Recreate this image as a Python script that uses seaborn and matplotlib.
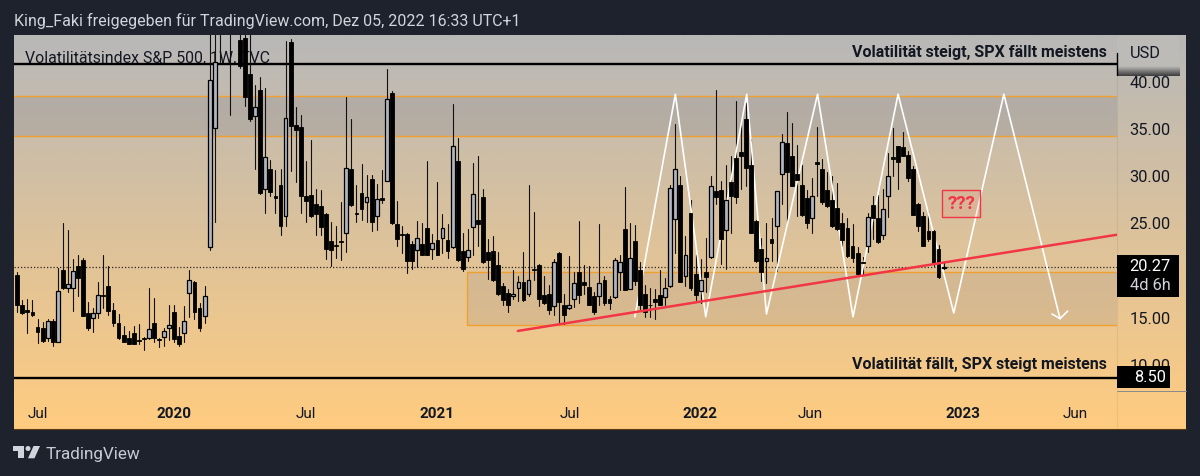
"""Weekly VIX candles with zones, trend line and projected zigzag (TradingView look)."""

import matplotlib

matplotlib.use("Agg")
import matplotlib.pyplot as plt
import numpy as np
import pandas as pd
import seaborn as sns
from matplotlib.colors import LinearSegmentedColormap
from matplotlib.patches import Circle, Polygon, Rectangle

highs = [
    19.8, 16.8, 16.9, 16.8, 14.8, 14.4, 14.8, 14.8, 20.2, 24.9,
    24.2, 21.1, 21.6, 21.2, 16.6, 15.9, 18.7, 21.5, 20.4, 16.5,
    15.3, 14.0, 13.5, 14.0, 14.2, 12.9, 18.1, 17.0, 12.8, 13.8,
    16.3, 16.3, 13.9, 16.1, 20.0, 18.8, 16.5, 18.3, 48, 50,
    70, 85, 85, 70, 50, 50, 46, 39.6, 40.4, 39.3,
    31.6, 30.6, 30.7, 44.2, 44.5, 37.2, 36.4, 31.5, 33.7, 28.6,
    28.4, 26.0, 25.0, 24.6, 27.2, 38.3, 36.0, 29.0, 31.2, 30.0,
    30.0, 29.1, 30.6, 41.3, 38.9, 27.3, 24.6, 23.9, 23.0, 25.2,
    24.9, 31.5, 23.8, 29.3, 25.9, 24.8, 37.6, 34.0, 23.9, 24.3,
    31.3, 32.0, 28.5, 23.2, 23.6, 21.9, 18.6, 17.9, 20.0, 19.3,
    21.9, 29.0, 26.1, 20.6, 19.3, 18.4, 21.1, 21.9, 17.4, 21.4,
    19.7, 25.2, 20.5, 20.4, 17.6, 24.8, 19.3, 17.2, 21.2, 21.5,
    28.8, 24.9, 24.7, 20.8, 18.4, 18.1, 17.9, 20.0, 19.1, 29.0,
    35.4, 29.9, 23.6, 27.4, 21.5, 21.1, 23.4, 29.9, 39.0, 29.4,
    31.1, 32.1, 37.9, 35.3, 37.7, 33.9, 25.3, 23.4, 24.9, 25.5,
    28.3, 34.4, 36.7, 35.5, 33.2, 31.1, 28.4, 29.7, 35.1, 31.7,
    30.3, 29.9, 29.2, 26.0, 25.5, 24.8, 22.4, 21.3, 26.0, 27.8,
    27.9, 28.5, 32.4, 35.0, 33.1, 34.6, 32.6, 31.0, 27.1, 26.1,
    26.2, 24.2, 22.6, 20.8,
]
opens = [
    19.4, 16.3, 15.7, 15.5, 13.9, 13.8, 12.7, 14.6, 12.3, 20.0,
    18.0, 18.0, 20.4, 21.0, 15.4, 14.9, 15.4, 17.3, 18.3, 15.7,
    14.3, 13.1, 12.8, 13.3, 12.5, 12.7, 12.8, 14.3, 12.6, 12.9,
    13.8, 15.5, 13.0, 13.3, 17.5, 18.7, 15.9, 15.1, 22.4, 35.0,
    46, 58, 66, 65, 44.3, 44.6, 40.7, 36.3, 39.1, 28.5,
    30.7, 27.8, 29.0, 25.7, 44.1, 35.3, 35.1, 27.8, 27.9, 27.0,
    26.7, 25.9, 23.0, 22.6, 23.0, 23.9, 30.7, 26.0, 28.1, 27.2,
    29.6, 25.7, 27.6, 29.4, 38.7, 24.8, 23.8, 23.8, 22.7, 22.1,
    22.7, 24.4, 22.2, 23.1, 23.4, 23.1, 22.4, 31.5, 22.0, 21.3,
    24.5, 25.3, 27.7, 21.9, 22.0, 20.5, 18.3, 17.5, 17.2, 18.0,
    18.7, 17.4, 20.1, 20.5, 17.3, 17.4, 16.1, 21.8, 16.2, 15.9,
    16.9, 19.7, 18.7, 18.2, 17.2, 17.2, 18.9, 16.9, 17.1, 19.8,
    24.3, 17.9, 23.0, 20.0, 17.4, 16.3, 16.9, 17.3, 17.1, 18.3,
    25.4, 29.0, 19.3, 26.0, 19.5, 17.7, 19.7, 21.3, 28.3, 28.4,
    24.2, 29.3, 31.8, 32.5, 36.0, 31.1, 25.2, 22.2, 20.9, 23.2,
    24.6, 30.1, 33.4, 32.0, 30.1, 29.0, 27.6, 25.5, 31.4, 30.7,
    28.4, 27.4, 26.5, 24.9, 24.4, 22.5, 21.8, 20.8, 22.5, 26.9,
    25.5, 23.7, 27.8, 31.9, 33.1, 33.0, 32.2, 30.7, 27.0, 25.7,
    24.1, 24.1, 22.2, 20.2,
]
closes = [
    16.3, 15.4, 15.5, 15.2, 13.4, 12.4, 14.5, 12.3, 17.7, 18.1,
    18.5, 19.9, 19.1, 15.1, 13.8, 15.4, 17.3, 17.2, 15.6, 14.3,
    12.7, 12.3, 12.1, 12.1, 12.4, 12.6, 13.7, 12.7, 12.5, 13.5,
    14.1, 12.6, 12.1, 14.6, 18.9, 15.5, 13.8, 17.2, 40.1, 42.0,
    58, 66, 65, 50, 41.6, 38.3, 36.0, 37.2, 28.1, 31.9,
    28.2, 27.6, 24.6, 36.1, 35.2, 34.8, 27.8, 27.3, 25.7, 25.9,
    24.5, 22.2, 22.1, 22.5, 22.9, 30.8, 26.9, 25.9, 26.4, 27.7,
    25.1, 27.5, 27.4, 38.1, 24.9, 23.2, 23.7, 20.9, 20.9, 23.4,
    21.6, 21.6, 22.8, 21.6, 24.4, 22.0, 33.1, 21.0, 20.1, 22.1,
    28.0, 24.8, 20.8, 21.0, 18.9, 17.4, 16.8, 16.3, 17.4, 18.7,
    16.8, 18.9, 20.0, 16.9, 16.5, 15.7, 20.8, 16.6, 15.2, 16.3,
    18.6, 17.3, 18.4, 16.3, 15.5, 18.6, 16.5, 16.5, 21.0, 20.8,
    17.8, 21.2, 18.8, 16.3, 15.5, 16.2, 16.6, 16.3, 18.0, 28.7,
    30.7, 18.7, 21.6, 18.0, 17.3, 18.9, 19.2, 28.9, 27.7, 23.2,
    27.4, 27.8, 27.7, 32.0, 30.8, 23.9, 20.9, 19.7, 21.2, 22.8,
    28.3, 33.5, 30.3, 28.9, 29.5, 25.8, 24.9, 27.8, 31.2, 27.2,
    26.7, 24.6, 24.3, 23.1, 21.4, 21.2, 19.5, 20.7, 25.6, 25.5,
    22.9, 26.4, 29.9, 31.7, 31.4, 32.1, 29.7, 25.8, 24.6, 22.5,
    23.2, 20.6, 19.2, 20.27,
]
lows = [
    15.5, 15.3, 13.3, 15.1, 12.2, 12.3, 12.4, 11.9, 12.3, 17.9,
    17.6, 15.6, 17.2, 15.1, 13.6, 13.4, 14.9, 15.9, 15.2, 14.0,
    12.6, 12.3, 12.1, 12.1, 12.1, 11.5, 12.6, 12.3, 11.8, 11.9,
    12.5, 12.3, 11.9, 12.3, 15.0, 14.8, 13.5, 14.3, 22.1, 25.1,
    42, 50, 36.4, 46, 41.4, 37.4, 35.8, 30.7, 28.0, 26.0,
    27.8, 26.0, 23.7, 24.6, 30.5, 29.3, 26.0, 25.1, 25.6, 23.7,
    23.7, 21.1, 20.4, 21.2, 21.0, 21.9, 26.7, 25.0, 25.3, 25.0,
    24.1, 24.2, 27.1, 29.4, 24.8, 22.5, 21.8, 19.6, 20.1, 20.3,
    21.6, 21.5, 21.1, 21.5, 21.8, 21.2, 22.3, 20.9, 19.9, 20.9,
    21.5, 22.5, 20.7, 19.0, 18.8, 17.3, 16.3, 15.5, 16.9, 16.7,
    16.7, 17.2, 18.9, 16.1, 16.4, 15.3, 15.2, 14.4, 14.2, 15.8,
    16.0, 16.5, 17.4, 16.2, 15.3, 16.2, 16.3, 15.8, 17.0, 17.8,
    17.8, 17.9, 18.4, 15.8, 15.0, 15.0, 14.8, 16.2, 16.2, 18.2,
    21.8, 18.7, 18.3, 17.8, 16.8, 16.5, 17.6, 21.2, 27.0, 20.6,
    20.1, 23.9, 27.1, 28.5, 28.9, 23.9, 20.8, 18.8, 18.6, 20.9,
    19.9, 27.0, 25.1, 28.9, 25.7, 25.7, 24.4, 23.9, 27.8, 27.0,
    26.6, 24.5, 24.2, 22.5, 21.3, 20.8, 19.3, 19.5, 21.9, 23.2,
    22.8, 23.3, 25.6, 29.9, 28.6, 32.0, 29.4, 25.8, 24.1, 22.5,
    23.0, 20.4, 19.1, 20.1,
]

price_ticks = [40, 35, 30, 25, 15, 10]
time_ticks = [4.1, 31, 57, 82.9, 109.2, 134.9, 156.6, 186.8, 209]
time_labels = ["Jul", "2020", "Jul", "2021", "Jul", "2022", "Jun", "2023", "Jun"]

# drawn objects, in (week index, price)
zigzag_x = [122, 130, 136, 144.1, 148, 158.1, 165.1, 174, 185, 194.9, 206]
zigzag_y = [15.0, 38.6, 15.0, 38.6, 15.3, 38.6, 15.0, 38.6, 15.4, 38.6, 14.8]
arrow_x = [204.4, 206, 207.5]
arrow_y = [15.3, 14.8, 15.6]
trend_x = [98.9, 217.2]
trend_y = [13.5, 23.7]
upper_zone = (34.2, 38.4)
lower_zone = (14.1, 19.8)
lower_zone_start = 88.8
resistance_level = 41.8
support_level = 8.5
last_price = 20.27

BG_DARK = "#1e222d"
TEXT_DARK = "#131722"
ORANGE = "#f0a030"
RED = "#f23645"
HOLLOW = "#b2b5be"

W, H = 1200, 477
PLOT_L, PLOT_R, PLOT_T, PLOT_B = 14, 1186, 36, 430
AX_R, AX_B = 1116.5, 392

sns.set_theme(style="white")
plt.rcParams["font.family"] = ["Roboto", "DejaVu Sans"]

fig = plt.figure(figsize=(W / 100, H / 100), dpi=100, facecolor=BG_DARK)

# panel gradient and chart title sit under the candles
bg = fig.add_axes([0, 0, 1, 1], zorder=0)
bg.set_xlim(0, W)
bg.set_ylim(H, 0)
bg.axis("off")
panel_cmap = LinearSegmentedColormap.from_list("panel", ["#b8b8b8", "#ffcc80"])
bg.imshow(
    np.linspace(0, 1, 256).reshape(-1, 1), cmap=panel_cmap, aspect="auto",
    extent=[PLOT_L, PLOT_R, PLOT_B, PLOT_T], zorder=0,
)
bg.set_xlim(0, W)
bg.set_ylim(H, 0)
bg.plot([AX_R, AX_R], [PLOT_T, PLOT_B], color="#000000", alpha=0.06, lw=0.8)
bg.plot([AX_R, PLOT_R], [AX_B, AX_B], color="#8a8a8a", lw=0.7)
bg.plot([PLOT_L, PLOT_R], [PLOT_B, PLOT_B], color="#5a3a10", lw=0.8)
bg.text(25, 58, "Volatilitätsindex S&P 500, 1W, TVC", color=TEXT_DARK,
        fontsize=11.4, va="center", ha="left")
bg.text(14, 21, "King_Faki freigegeben für TradingView.com, Dez 05, 2022 16:33 UTC+1",
        color="#d1d4dc", fontsize=11.55, va="center", ha="left")
bg.text(46, 455, "TradingView", color="#c8cbd3", fontsize=12.35, va="center", ha="left")

# logo
bg.add_patch(Polygon([(13.3, 447), (24, 447), (24, 459.3), (18, 459.3), (18, 452), (13.3, 452)],
                     color="#d1d4dc", lw=0))
bg.add_patch(Circle((28, 449.5), 2.5, color="#d1d4dc", lw=0))
bg.add_patch(Polygon([(40, 447), (33.5, 447), (28, 459.3), (34.5, 459.3)], color="#d1d4dc", lw=0))

# price chart
ax = fig.add_axes([PLOT_L / W, 1 - AX_B / H, (AX_R - PLOT_L) / W, (AX_B - PLOT_T) / H],
                  zorder=2)
ax.patch.set_alpha(0)

candles = pd.DataFrame({"open": opens, "high": highs, "low": lows, "close": closes})
candles["week"] = candles.index
rising = candles["close"] >= candles["open"]

ax.axhspan(*upper_zone, facecolor="#787b86", alpha=0.22, lw=0, zorder=1)
for level in upper_zone:
    ax.axhline(level, color=ORANGE, lw=1.0, zorder=1.5)
ax.add_patch(Rectangle((lower_zone_start, lower_zone[0]), 230 - lower_zone_start,
                       lower_zone[1] - lower_zone[0], facecolor=(0.47, 0.48, 0.53, 0.15),
                       edgecolor=ORANGE, lw=1.0, zorder=1.5))
ax.axhline(last_price, color="#2a2a2a", lw=0.9, ls=(0, (1, 1.6)), zorder=1.6)
ax.axhline(resistance_level, color="#000000", lw=1.7, zorder=1.7)
ax.axhline(support_level, color="#000000", lw=1.7, zorder=1.7)

wicks = candles.melt(id_vars="week", value_vars=["high", "low"], value_name="price")
sns.lineplot(data=wicks, x="week", y="price", units="week", estimator=None,
             color="#111111", lw=0.8, legend=False, ax=ax, zorder=2)
ax.bar(candles["week"][~rising], (candles["open"] - candles["close"])[~rising],
       bottom=candles["close"][~rising], width=0.76, color="#000000",
       edgecolor="#000000", lw=0.6, zorder=3)
ax.bar(candles["week"][rising], (candles["close"] - candles["open"])[rising],
       bottom=candles["open"][rising], width=0.76, color=HOLLOW,
       edgecolor="#000000", lw=0.9, zorder=3)

sns.lineplot(x=zigzag_x, y=zigzag_y, sort=False, estimator=None, color="#ffffff", lw=1.2,
             ax=ax, zorder=2.5)
sns.lineplot(x=arrow_x, y=arrow_y, sort=False, estimator=None, color="#ffffff", lw=1.2,
             ax=ax, zorder=4)
sns.lineplot(x=trend_x, y=trend_y, sort=False, estimator=None, color=RED, lw=1.8,
             ax=ax, zorder=5)

ax.set_xlim(-0.65, 217.15)
ax.set_ylim(7.13, 44.88)
ax.set_xlabel("")
ax.set_ylabel("")
sns.despine(ax=ax, left=True, bottom=True)
ax.yaxis.tick_right()
ax.set_yticks(price_ticks)
ax.set_yticklabels([f"{p:.2f}" for p in price_ticks], color=TEXT_DARK, fontsize=11.8)
ax.set_xticks(time_ticks)
ax.set_xticklabels(time_labels, color=TEXT_DARK, fontsize=11)
for tick in ax.get_xticklabels():
    if tick.get_text().isdigit():
        tick.set_fontweight("bold")
ax.tick_params(axis="y", length=0, pad=9.5)
ax.tick_params(axis="x", length=0, pad=11)

# annotations and price labels on top
top = fig.add_axes([0, 0, 1, 1], zorder=5)
top.set_xlim(0, W)
top.set_ylim(H, 0)
top.axis("off")
top.patch.set_alpha(0)

top.text(979, 52, "Volatilität steigt, SPX fällt meistens", color=TEXT_DARK, fontsize=11.55,
         fontweight="bold", ha="center", va="center")
top.text(979, 365, "Volatilität fällt, SPX steigt meistens", color=TEXT_DARK, fontsize=11.55,
         fontweight="bold", ha="center", va="center")

top.add_patch(Rectangle((942.3, 190.7), 37.4, 27, facecolor=(0.95, 0.21, 0.27, 0.08),
                        edgecolor=RED, lw=1.0))
top.text(961, 204, "???", color=RED, fontsize=13.5, fontweight="bold", ha="center", va="center")

# USD header, hides the price tag of the upper level
top.add_patch(Rectangle((AX_R, 37), 1179 - AX_R, 30, facecolor="#bcbbb8", lw=0))
strip_cmap = LinearSegmentedColormap.from_list("strip", ["#bcbbb8", "#3c3c3c"])
top.imshow(np.linspace(0, 1, 32).reshape(-1, 1), cmap=strip_cmap, aspect="auto",
           extent=[AX_R, 1179, 76.5, 67])
top.set_xlim(0, W)
top.set_ylim(H, 0)
top.plot([1117, 1117], [54, 76], color="#000000", lw=1.0)
top.text(1145, 54, "USD", color=TEXT_DARK, fontsize=11.8, ha="center", va="center")

top.add_patch(Rectangle((AX_R, 256), 1179 - AX_R, 42, facecolor="#000000", lw=0))
top.text(1150, 267, f"{last_price:.2f}", color="#ffffff", fontsize=11.8, ha="center", va="center")
top.text(1150, 286, "4d 6h", color="#d1d4dc", fontsize=11.8, ha="center", va="center")
top.add_patch(Rectangle((AX_R, 367), 1170 - AX_R, 22, facecolor="#000000", lw=0))
top.text(1150, 378, f"{support_level:.2f}", color="#ffffff", fontsize=11.8, ha="center", va="center")

fig.savefig("out.png", dpi=100, facecolor=BG_DARK)
plt.close(fig)
